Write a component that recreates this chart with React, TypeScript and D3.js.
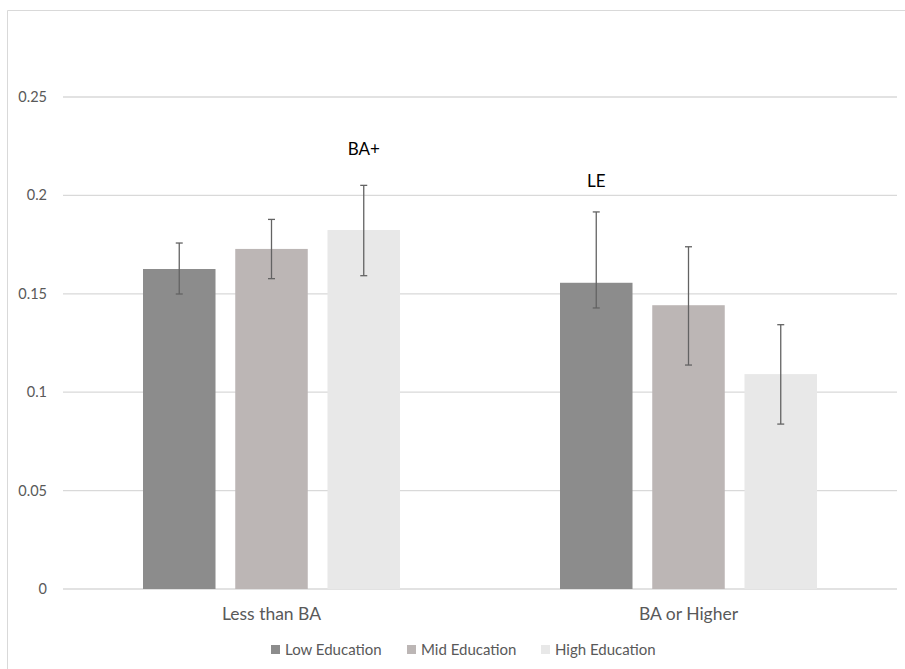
import React from "react";
import * as d3 from "d3";

const categories = ["Less than BA", "BA or Higher"];
const seriesNames = ["Low Education", "Mid Education", "High Education"];
const seriesColors = ["#8c8c8c", "#bcb6b5", "#e8e8e8"];
const lowEdu = [0.1626, 0.1556];
const midEdu = [0.1728, 0.1442];
const highEdu = [0.1824, 0.1092];
const lowErrHi = [0.1758, 0.1916];
const lowErrLo = [0.1499, 0.1428];
const midErrHi = [0.1878, 0.1739];
const midErrLo = [0.1577, 0.1138];
const highErrHi = [0.2051, 0.1343];
const highErrLo = [0.1592, 0.0838];
const yTicks = [0, 0.05, 0.1, 0.15, 0.2, 0.25];
const yTickLabels = ["0", "0.05", "0.1", "0.15", "0.2", "0.25"];
const annotations = [
  { cat: "Less than BA", series: 2, text: "BA+", value: 0.2238 },
  { cat: "BA or Higher", series: 0, text: "LE", value: 0.2075 },
];

const W = 905;
const H = 669;
const FONT = "Lato, 'Open Sans', sans-serif";

export default function App() {
  const values = [lowEdu, midEdu, highEdu];
  const errHi = [lowErrHi, midErrHi, highErrHi];
  const errLo = [lowErrLo, midErrLo, highErrLo];

  const x0 = d3.scaleBand<string>().domain(categories).range([63, 897]).padding(0);
  const groupW = 257;
  const x1 = d3
    .scaleBand<string>()
    .domain(seriesNames)
    .range([-groupW / 2, groupW / 2])
    .paddingInner(0.214)
    .paddingOuter(0);
  const y = d3.scaleLinear().domain([0, 0.25]).range([589, 97]);
  const legendX = [271, 407, 541];

  return (
    <svg
      width={W}
      height={H}
      style={{ position: "absolute", left: 0, top: 0, background: "#fff" }}
    >
      <rect x={0} y={0} width={W} height={H} fill="#fff" />
      <path d={`M7.5,${H} V10.5 H${W}`} fill="none" stroke="#d9d9d9" strokeWidth={1} />
      {yTicks.map((t, i) => (
        <g key={i}>
          <line x1={63} x2={897} y1={y(t)} y2={y(t)} stroke="#d9d9d9" strokeWidth={1.3} />
          <text
            x={47}
            y={y(t)}
            dy="0.35em"
            textAnchor="end"
            fontFamily={FONT}
            fontSize={14.5}
            fill="#595959"
          >
            {yTickLabels[i]}
          </text>
        </g>
      ))}
      {categories.map((c, ci) => (
        <g key={c} transform={`translate(${x0(c)! + x0.bandwidth() / 2},0)`}>
          {seriesNames.map((s, si) => {
            const v = values[si][ci];
            const bx = x1(s)!;
            const cx = bx + x1.bandwidth() / 2;
            return (
              <g key={s}>
                <rect
                  x={bx}
                  y={y(v)}
                  width={x1.bandwidth()}
                  height={y(0) - y(v)}
                  fill={seriesColors[si]}
                />
                <line
                  x1={cx}
                  x2={cx}
                  y1={y(errHi[si][ci])}
                  y2={y(errLo[si][ci])}
                  stroke="#636363"
                  strokeWidth={1.3}
                />
                <line
                  x1={cx - 3.5}
                  x2={cx + 3.5}
                  y1={y(errHi[si][ci])}
                  y2={y(errHi[si][ci])}
                  stroke="#636363"
                  strokeWidth={1.3}
                />
                <line
                  x1={cx - 3.5}
                  x2={cx + 3.5}
                  y1={y(errLo[si][ci])}
                  y2={y(errLo[si][ci])}
                  stroke="#636363"
                  strokeWidth={1.3}
                />
              </g>
            );
          })}
          <text
            x={0}
            y={620}
            textAnchor="middle"
            fontFamily={FONT}
            fontSize={17.5}
            fill="#595959"
          >
            {c}
          </text>
        </g>
      ))}
      {annotations.map((a, i) => {
        const cx =
          x0(a.cat)! + x0.bandwidth() / 2 + x1(seriesNames[a.series])! + x1.bandwidth() / 2;
        return (
          <text
            key={i}
            x={cx}
            y={y(a.value)}
            dy="0.35em"
            textAnchor="middle"
            fontFamily={FONT}
            fontSize={17}
            fill="#000"
          >
            {a.text}
          </text>
        );
      })}
      {seriesNames.map((s, si) => {
        const lx = legendX[si];
        return (
          <g key={s}>
            <rect x={lx} y={645} width={9} height={9} fill={seriesColors[si]} />
            <text
              x={lx + 14}
              y={655}
              fontFamily={FONT}
              fontSize={15}
              fill="#595959"
            >
              {s}
            </text>
          </g>
        );
      })}
    </svg>
  );
}
